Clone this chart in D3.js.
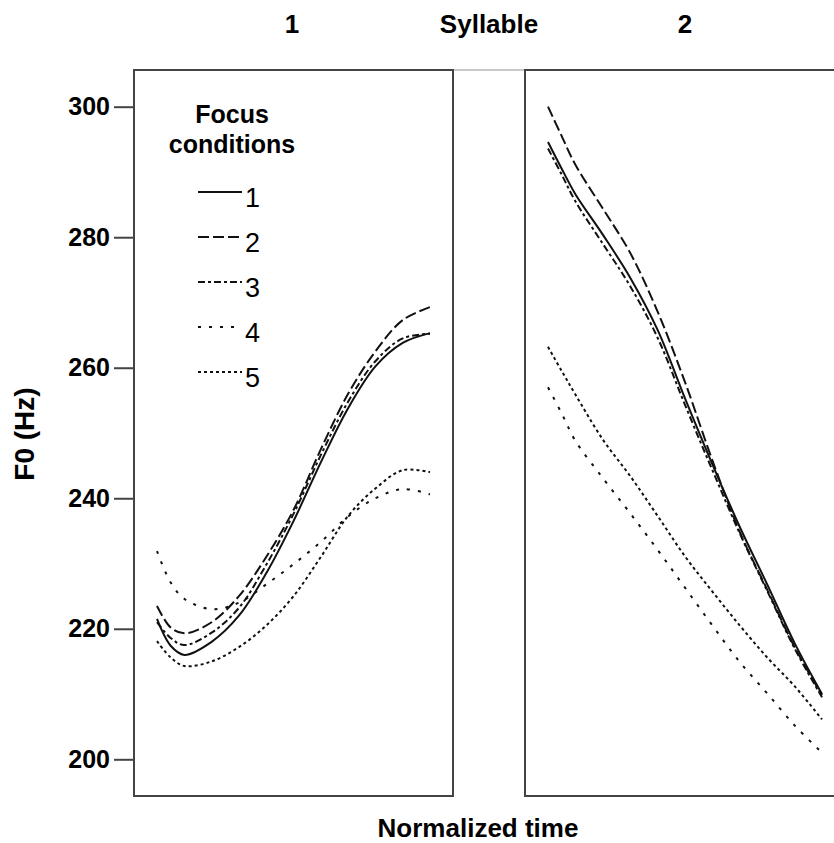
<!DOCTYPE html>
<html>
<head>
<meta charset="utf-8">
<script src="https://cdn.jsdelivr.net/npm/d3@7"></script>
<style>
  body { margin: 0; background: #fff; }
  text { font-family: "Liberation Sans", Arial, sans-serif; fill: #000; }
</style>
</head>
<body>
<script>
// normalized time within each syllable
var time = [0, 0.05, 0.1, 0.2, 0.3, 0.4, 0.5, 0.6, 0.7, 0.8, 0.9, 1.0];

var conditions = ["1", "2", "3", "4", "5"];
var syllables = ["1", "2"];
var yTicks = [200, 220, 240, 260, 280, 300];

// F0 (Hz), syllable 1
var syl1_c1 = [221.5, 217.4, 216.0, 218.0, 222.0, 228.5, 236.5, 245.5, 253.8, 260.2, 263.8, 265.3];
var syl1_c2 = [223.5, 220.2, 219.3, 221.0, 225.0, 231.0, 238.2, 247.5, 256.0, 262.5, 267.3, 269.3];
var syl1_c3 = [221.0, 218.6, 217.5, 219.4, 223.2, 229.8, 237.6, 246.6, 254.8, 261.0, 264.5, 265.2];
var syl1_c4 = [231.9, 227.1, 224.6, 223.0, 224.0, 226.8, 229.9, 233.3, 237.2, 240.0, 241.4, 240.6];
var syl1_c5 = [218.1, 215.6, 214.3, 215.0, 217.2, 220.5, 225.0, 231.0, 237.3, 241.5, 244.3, 244.0];

// F0 (Hz), syllable 2
var syl2_c1 = [294.6, 290.5, 286.6, 280.4, 273.8, 265.8, 255.3, 245.2, 235.6, 226.8, 217.8, 210.0];
var syl2_c2 = [300.0, 295.5, 291.1, 284.4, 277.6, 268.6, 257.8, 245.8, 234.8, 226.0, 217.2, 209.8];
var syl2_c3 = [293.6, 289.6, 285.5, 279.0, 272.5, 264.6, 254.3, 244.3, 234.6, 225.8, 217.0, 209.5];
var syl2_c4 = [257.0, 253.0, 248.8, 243.1, 237.7, 232.1, 226.3, 220.5, 214.9, 210.1, 205.2, 201.0];
var syl2_c5 = [263.2, 259.5, 255.9, 249.0, 243.4, 237.3, 231.1, 225.7, 220.5, 215.6, 211.2, 206.1];

var syl1 = [syl1_c1, syl1_c2, syl1_c3, syl1_c4, syl1_c5];
var syl2 = [syl2_c1, syl2_c2, syl2_c3, syl2_c4, syl2_c5];

var dashes = [null, "11,4", "7,3,3,3", "3,8", "3,3"];

function drawChart() {
	var svg = d3.select("body").append("svg").attr("width", 834).attr("height", 843);

	var y = d3.scaleLinear().domain([200, 300]).range([759.3, 106.7]);

	// panel frames
	var frame = "#444";
	svg.append("line").attr("x1", 453).attr("y1", 70).attr("x2", 525).attr("y2", 70)
		.attr("stroke", "#c8c8c8").attr("stroke-width", 2);
	svg.append("rect").attr("x", 134).attr("y", 70).attr("width", 319).attr("height", 726)
		.attr("fill", "none").attr("stroke", frame).attr("stroke-width", 2);
	svg.append("path").attr("d", "M836,70H525V796H836")
		.attr("fill", "none").attr("stroke", frame).attr("stroke-width", 2);

	// y axis
	var yAxis = svg.append("g").attr("transform", "translate(134,0)")
		.call(d3.axisLeft(y).tickValues(yTicks).tickSize(20).tickPadding(4));
	yAxis.select(".domain").remove();
	yAxis.selectAll(".tick line").attr("stroke", frame).attr("stroke-width", 2);
	yAxis.selectAll(".tick text").attr("font-size", 25).attr("font-weight", "bold")
		.attr("font-family", "Liberation Sans, Arial, sans-serif").attr("fill", "#000");

	// panels
	var panels = [
		{ data: syl1, x: d3.scaleLinear().domain([0, 1]).range([157, 430]) },
		{ data: syl2, x: d3.scaleLinear().domain([0, 1]).range([548, 822]) }
	];

	panels.forEach(function(p) {
		var line = d3.line()
			.x(function(d, i) { return p.x(time[i]); })
			.y(function(d) { return y(d); })
			.curve(d3.curveCatmullRom.alpha(0.5));
		p.data.forEach(function(series, k) {
			svg.append("path").attr("d", line(series))
				.attr("fill", "none").attr("stroke", "#111").attr("stroke-width", 2)
				.attr("stroke-dasharray", dashes[k]);
		});
	});

	// header
	svg.append("text").attr("x", 292).attr("y", 33).attr("text-anchor", "middle")
		.attr("font-size", 26).attr("font-weight", "bold").text(syllables[0]);
	svg.append("text").attr("x", 489).attr("y", 33).attr("text-anchor", "middle")
		.attr("font-size", 26).attr("font-weight", "bold").text("Syllable");
	svg.append("text").attr("x", 685).attr("y", 33).attr("text-anchor", "middle")
		.attr("font-size", 26).attr("font-weight", "bold").text(syllables[1]);

	// axis titles
	svg.append("text").attr("x", 478).attr("y", 837).attr("text-anchor", "middle")
		.attr("font-size", 26).attr("font-weight", "bold").text("Normalized time");
	svg.append("text").attr("transform", "translate(34,434) rotate(-90)").attr("text-anchor", "middle")
		.attr("font-size", 28).attr("font-weight", "bold").text("F0 (Hz)");

	// legend
	svg.append("text").attr("x", 232).attr("y", 123).attr("text-anchor", "middle")
		.attr("font-size", 25).attr("font-weight", "bold").text("Focus");
	svg.append("text").attr("x", 232).attr("y", 153).attr("text-anchor", "middle")
		.attr("font-size", 25).attr("font-weight", "bold").text("conditions");

	var ly = d3.scalePoint().domain(conditions).range([192, 372]);
	conditions.forEach(function(c, k) {
		svg.append("line").attr("x1", 198).attr("x2", 242).attr("y1", ly(c)).attr("y2", ly(c))
			.attr("stroke", "#111").attr("stroke-width", 2).attr("stroke-dasharray", dashes[k]);
		svg.append("text").attr("x", 245).attr("y", ly(c) + 15)
			.attr("font-size", 27).attr("fill", "#222").text(c);
	});
}

drawChart();
</script>
</body>
</html>
